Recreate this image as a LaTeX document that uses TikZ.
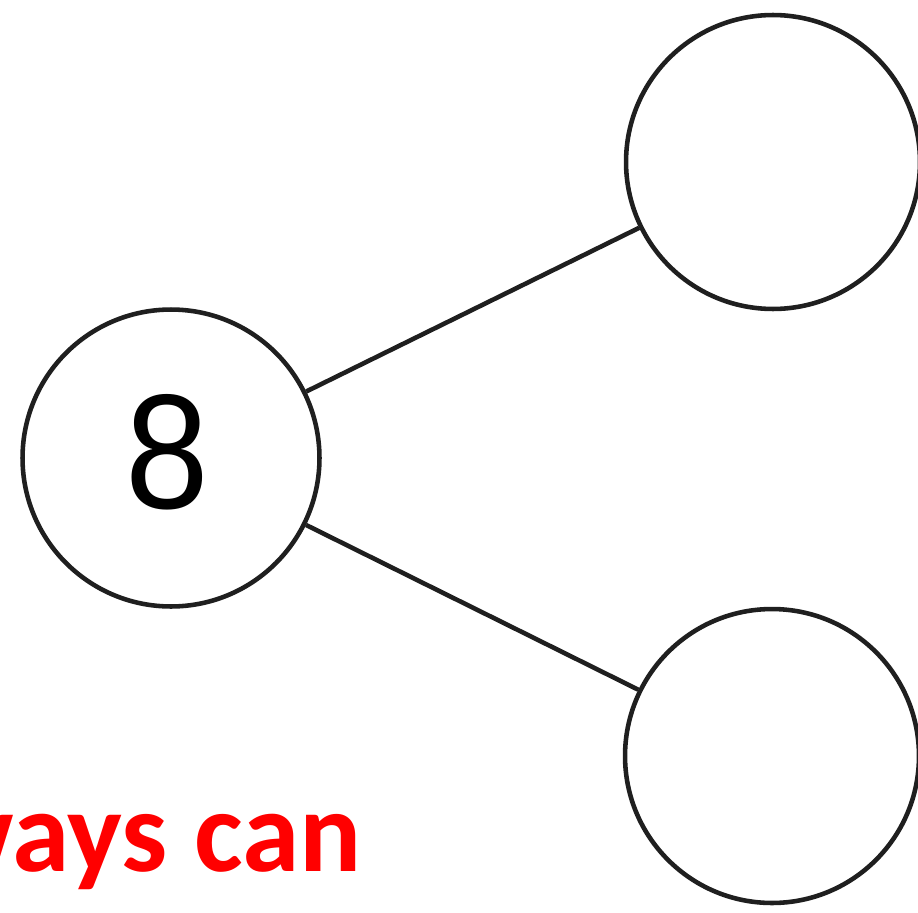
\documentclass[tikz,border=0pt]{standalone}
\usepackage{fontspec}
\newfontfamily\digitfont{Liberation Sans}
\newfontfamily\labelfont{Carlito}
\begin{document}
\begin{tikzpicture}[x=0.02cm,y=-0.02cm,
  bubble/.style={circle,draw=black!88,line width=2.6pt,minimum size=5.94cm,inner sep=0pt},
  link/.style={draw=black!88,line width=2.6pt}]
\clip (0,0) rectangle (918,912);
\useasboundingbox (0,0) rectangle (918,912);
\node[bubble] (a) at (171,458) {};
\node[bubble,minimum size=5.88cm] (b) at (773,162) {};
\node[bubble,minimum size=5.88cm] (c) at (772,756) {};
\node[inner sep=0pt,xscale=0.92] (n) at (167,452) {\fontsize{93}{93}\selectfont\digitfont 8};
\draw[link] (a) -- (b);
\draw[link] (a) -- (c);
\node[anchor=base east,inner sep=0pt,text={rgb,255:red,255;green,0;blue,0}] (t) at (362,871)
  {\fontsize{66}{66}\selectfont\labelfont\bfseries ways can};
\end{tikzpicture}
\end{document}
